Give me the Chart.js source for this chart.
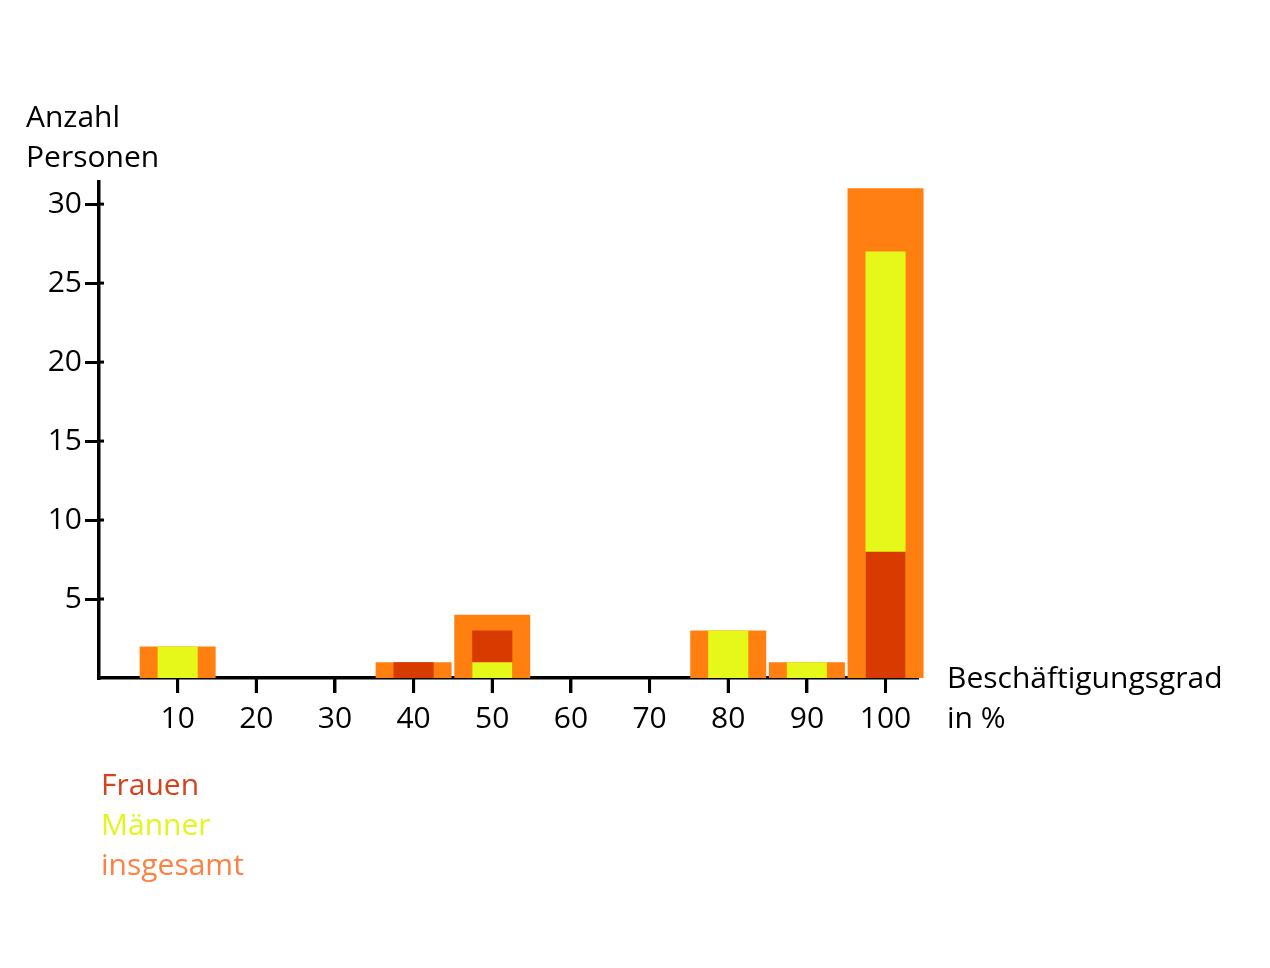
<!DOCTYPE html>
<html lang="de">
<head>
    <meta charset="UTF-8">
    <title>Beschäftigungsgrad</title>
    <script src="https://cdn.jsdelivr.net/npm/chart.js"></script>
    <style>
        body { margin: 0; background: #fff; }
        #wrap { position: relative; width: 1270px; height: 968px; font-family: "Open Sans", sans-serif; font-size: 30px; line-height: 40px; }
        .lbl { position: absolute; white-space: nowrap; }
        canvas { position: absolute; left: 0; top: 0; }
    </style>
</head>
<body>
    <div id="wrap">
        <canvas id="mainChart" width="1270" height="968"></canvas>
        <div class="lbl" style="left:26px; top:96px;">Anzahl<br>Personen</div>
        <div class="lbl" style="left:947px; top:657px;">Beschäftigungsgrad<br>in %</div>
        <div class="lbl" style="left:101px; top:764px;">
            <span style="color:#d6421c;">Frauen</span><br>
            <span style="color:#e3f51e;">Männer</span><br>
            <span style="color:#ff8040;">insgesamt</span>
        </div>
    </div>

    <script>
        // Beschäftigungsgrad in %
        const grade = [10, 20, 30, 40, 50, 60, 70, 80, 90, 100];
        // Anzahl Personen
        const frauen    = [0, 0, 0, 1, 3, 0, 0, 0, 0, 8];
        const maenner   = [2, 0, 0, 0, 1, 0, 0, 3, 1, 27];
        const insgesamt = [2, 0, 0, 1, 4, 0, 0, 3, 1, 31];
        const yTicks = [5, 10, 15, 20, 25, 30];

        const RED = '#d93a00';
        const YELLOW = '#e6f71a';
        const ORANGE = '#ff7f10';

        // the smaller of Frauen/Männer is drawn in front of the bigger one
        const back = grade.map((g, i) => ({ x: g, y: Math.max(frauen[i], maenner[i]) }));
        const backColors = grade.map((g, i) => frauen[i] > maenner[i] ? RED : YELLOW);
        const front = grade.map((g, i) => ({ x: g, y: Math.min(frauen[i], maenner[i]) }));
        const frontColors = grade.map((g, i) => frauen[i] > maenner[i] ? YELLOW : RED);
        const total = grade.map((g, i) => ({ x: g, y: insgesamt[i] }));

        // tick marks: y ticks cross the axis, x ticks hang below it
        const tickMarks = {
            id: 'tickMarks',
            afterDraw(chart) {
                const ctx = chart.ctx;
                const { x, y } = chart.scales;
                const { left, bottom } = chart.chartArea;
                ctx.save();
                ctx.strokeStyle = '#000';
                ctx.lineWidth = 3;
                yTicks.forEach(v => {
                    const py = y.getPixelForValue(v);
                    ctx.beginPath();
                    ctx.moveTo(left, py);
                    ctx.lineTo(left + 5, py);
                    ctx.stroke();
                });
                grade.forEach(v => {
                    const px = x.getPixelForValue(v);
                    ctx.beginPath();
                    ctx.moveTo(px, bottom);
                    ctx.lineTo(px, bottom + 15);
                    ctx.stroke();
                });
                ctx.restore();
            }
        };

        const ctx = document.getElementById('mainChart').getContext('2d');
        const chart = new Chart(ctx, {
            type: 'bar',
            data: {
                datasets: [
                    { label: 'front', data: front, backgroundColor: frontColors, order: 0, barPercentage: 0.51 },
                    { label: 'back', data: back, backgroundColor: backColors, order: 1, barPercentage: 0.51 },
                    { label: 'insgesamt', data: total, backgroundColor: ORANGE, order: 2, barPercentage: 0.966 }
                ]
            },
            options: {
                responsive: false,
                animation: false,
                datasets: { bar: { grouped: false, categoryPercentage: 1, clip: false } },
                layout: { padding: { left: 0, top: 182, right: 353, bottom: 230 } },
                plugins: { legend: { display: false }, tooltip: { enabled: false } },
                scales: {
                    x: {
                        type: 'linear',
                        min: 0,
                        max: 104,
                        offset: false,
                        afterBuildTicks: s => { s.ticks = grade.map(v => ({ value: v })); },
                        afterFit: s => { s.height = 60; },
                        grid: { offset: false, drawOnChartArea: false, color: '#000', lineWidth: 3, tickLength: 15 },
                        border: { color: '#000', width: 3.5 },
                        ticks: { color: '#000', padding: 8, maxRotation: 0, autoSkip: false, font: { family: 'Open Sans', size: 30 } }
                    },
                    y: {
                        min: 0,
                        max: 31.4,
                        afterBuildTicks: s => { s.ticks = yTicks.map(v => ({ value: v })); },
                        afterFit: s => { s.width = 99; },
                        grid: { drawOnChartArea: false, color: '#000', lineWidth: 3, tickLength: 14 },
                        border: { color: '#000', width: 3.5 },
                        ticks: { color: '#000', padding: 3, font: { family: 'Open Sans', size: 30 } }
                    }
                }
            },
            plugins: [tickMarks]
        });
    </script>
</body>
</html>
